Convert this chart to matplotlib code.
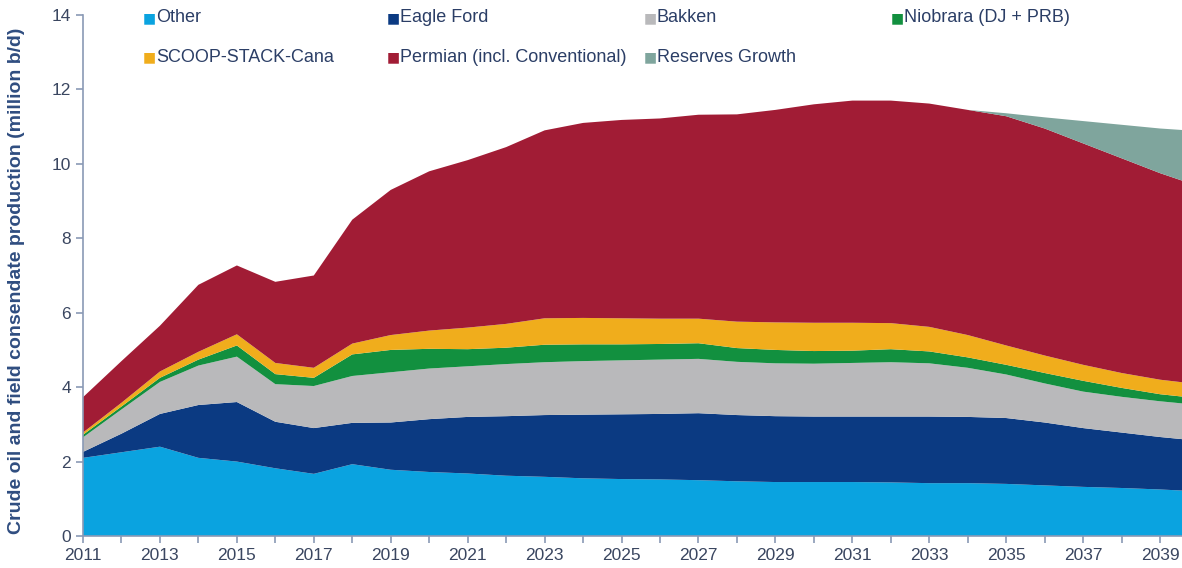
import numpy as np
import matplotlib
matplotlib.use('Agg')
import matplotlib.pyplot as plt

years = list(range(2011, 2041))
other = [2.10, 2.25, 2.40, 2.10, 2.00, 1.82, 1.67, 1.93, 1.78, 1.72, 1.68, 1.62, 1.59, 1.55, 1.53,
         1.52, 1.50, 1.47, 1.45, 1.45, 1.45, 1.44, 1.42, 1.42, 1.40, 1.36, 1.32, 1.29, 1.25, 1.20]
eagle_ford = [0.16, 0.50, 0.88, 1.42, 1.60, 1.25, 1.23, 1.11, 1.27, 1.42, 1.52, 1.60, 1.66, 1.71, 1.74,
              1.76, 1.80, 1.78, 1.77, 1.76, 1.76, 1.77, 1.79, 1.78, 1.77, 1.69, 1.58, 1.49, 1.41, 1.36]
bakken = [0.39, 0.65, 0.86, 1.06, 1.22, 1.01, 1.13, 1.26, 1.35, 1.36, 1.36, 1.40, 1.42, 1.44, 1.45,
          1.46, 1.46, 1.43, 1.42, 1.42, 1.44, 1.46, 1.43, 1.32, 1.17, 1.05, 0.98, 0.96, 0.96, 0.96]
niobrara = [0.07, 0.08, 0.11, 0.16, 0.30, 0.27, 0.22, 0.58, 0.60, 0.53, 0.46, 0.44, 0.47, 0.45, 0.43,
            0.42, 0.42, 0.37, 0.36, 0.34, 0.33, 0.35, 0.32, 0.28, 0.26, 0.28, 0.29, 0.24, 0.19, 0.18]
scoop = [0.06, 0.10, 0.17, 0.21, 0.30, 0.30, 0.27, 0.29, 0.40, 0.49, 0.58, 0.64, 0.71, 0.71, 0.70,
         0.68, 0.66, 0.71, 0.74, 0.76, 0.75, 0.70, 0.66, 0.60, 0.52, 0.47, 0.43, 0.40, 0.39, 0.38]
permian = [0.95, 1.12, 1.23, 1.80, 1.85, 2.18, 2.48, 3.33, 3.90, 4.28, 4.50, 4.75, 5.05, 5.24, 5.33,
           5.38, 5.48, 5.57, 5.71, 5.87, 5.97, 5.98, 6.00, 6.05, 6.16, 6.10, 5.95, 5.77, 5.55, 5.32]
reserves = [0.0] * 23 + [0.0, 0.08, 0.30, 0.60, 0.90, 1.20, 1.48]

labels = ['Other', 'Eagle Ford', 'Bakken', 'Niobrara (DJ + PRB)',
          'SCOOP-STACK-Cana', 'Permian (incl. Conventional)', 'Reserves Growth']
colors = ['#0aa3e0', '#0b3a82', '#b9b9bb', '#12903f', '#f0ad1c', '#a11c35', '#7fa59d']

plt.rcParams['font.family'] = ['Liberation Sans', 'DejaVu Sans']
txt_col = '#2b3e66'

fig = plt.figure(figsize=(11.82, 5.68), dpi=100)
ax = fig.add_axes([83 / 1182, 32 / 568, 1 - 83 / 1182, 521 / 568])
ax.stackplot(years, other, eagle_ford, bakken, niobrara, scoop, permian, reserves,
             colors=colors, linewidth=0)

ax.set_xlim(2011, 2039.57)
ax.set_ylim(0, 14)
ax.set_yticks(range(0, 15, 2))
ax.set_xticks(range(2011, 2040, 2))
ax.set_xticks(range(2011, 2040), minor=True)
for s in ('top', 'right'):
    ax.spines[s].set_visible(False)
for s in ('left', 'bottom'):
    ax.spines[s].set_color('#8a9ab5')
    ax.spines[s].set_linewidth(1.2)
ax.tick_params(axis='both', which='both', length=5, width=1.2, color='#8a9ab5',
               labelsize=12.5, labelcolor='#3a4660')
ax.tick_params(axis='x', which='major', pad=4)
ax.set_ylabel('Crude oil and field consendate production (million b/d)',
              fontsize=14, fontweight='bold', color='#2f4d80', labelpad=12)
ax.yaxis.set_label_coords(-58 / 1099, 0.49)

# legend laid out on a fixed grid like the original
leg_x = [149, 393, 650, 897]
leg_y = [18, 57]
slots = [(0, 0), (1, 0), (2, 0), (3, 0), (0, 1), (1, 1), (2, 1)]
for lab, col, (cx, ry) in zip(labels, colors, slots):
    x = leg_x[cx] / 1182
    y = 1 - leg_y[ry] / 568
    fig.text(x, y, '\u25a0', color=col, fontsize=10, ha='center', va='center',
             family=['DejaVu Sans'])
    fig.text(x + 7 / 1182, y, lab, color=txt_col, fontsize=13, ha='left', va='center')

fig.savefig('out.png', dpi=100)
